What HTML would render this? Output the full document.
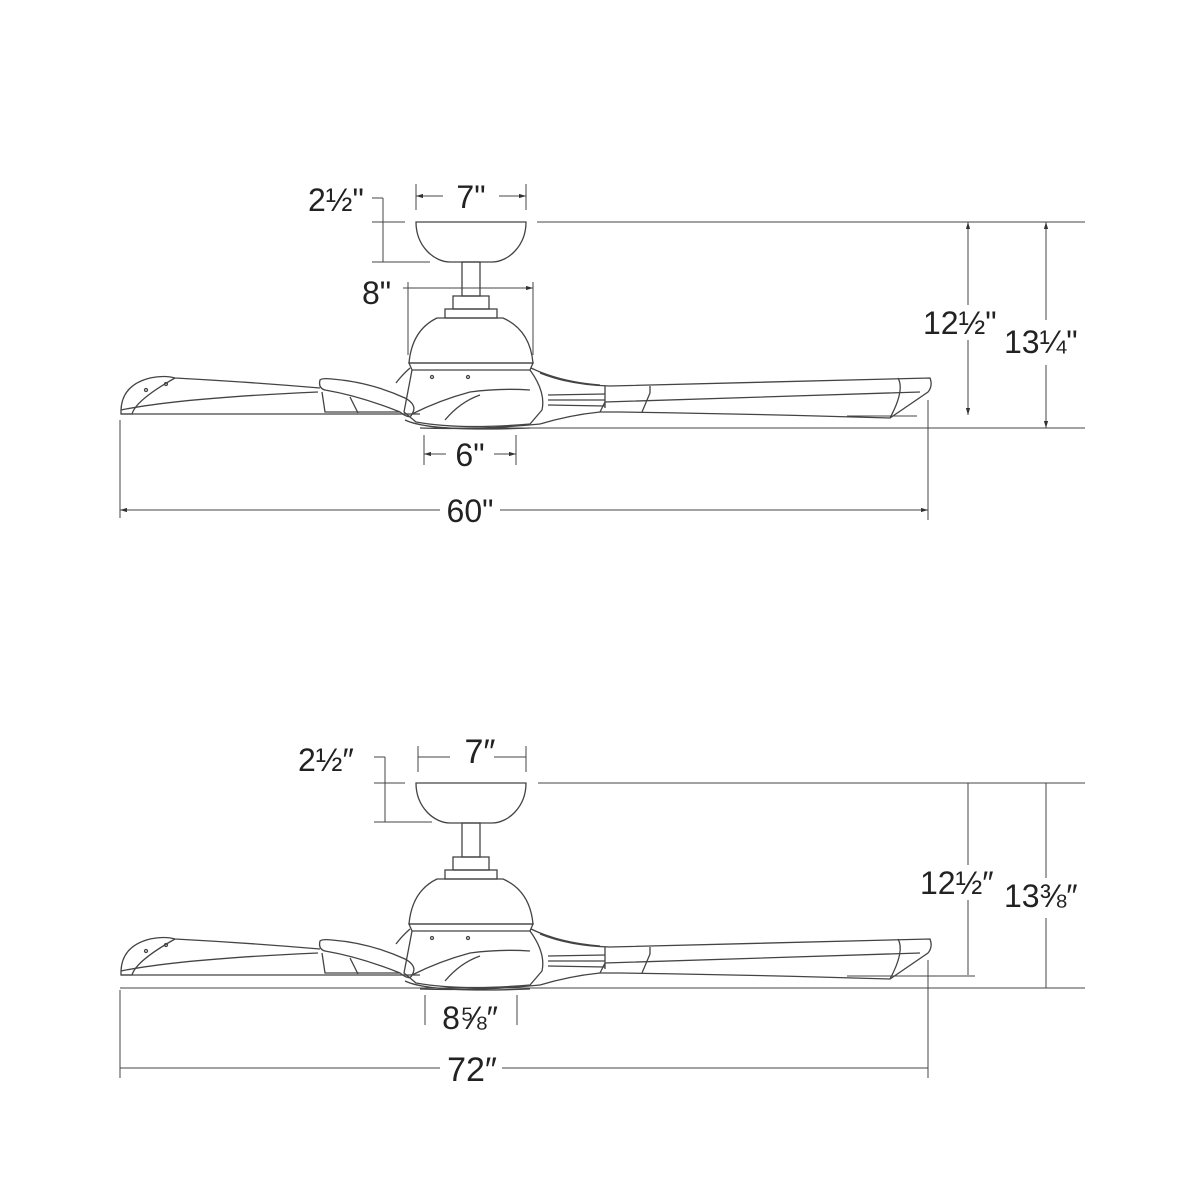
<!DOCTYPE html>
<html><head><meta charset="utf-8"><style>
html,body{margin:0;padding:0;background:#fff;}
svg{display:block}
text{font-family:"Liberation Sans",sans-serif;fill:#222;}
</style></head><body>
<svg width="1200" height="1200" viewBox="0 0 1200 1200" xmlns="http://www.w3.org/2000/svg">
<defs>
<marker id="a" viewBox="0 0 10 10" refX="10" refY="5" markerWidth="7" markerHeight="7" orient="auto-start-reverse"><path d="M0,2 L10,5 L0,8 z" fill="#333"/></marker>
<g id="fan" fill="none" stroke="#444" stroke-width="1.3">
  <path d="M416,222 L526,222 C526,246 508,262 492,262 L450,262 C434,262 416,246 416,222 z"/>
  <rect x="462" y="262" width="18" height="34"/>
  <rect x="453" y="296" width="36" height="13"/>
  <rect x="445" y="309" width="52" height="9"/>
  <path d="M437,318 L503,318 Q530,330 533,363 L409,363 Q412,330 437,318 z"/>
  <path d="M409,363 L533,363 L530,370 L412,370 z"/>
  <path d="M410,368 Q402,375 396,383 M531,368 Q560,382 600,385"/>
  <path d="M412,370 L404,412 L416,422 Q460,430 530,424 L542,410 Q546,392 530,370"/>
  <circle cx="432" cy="377" r="1.5"/><circle cx="468" cy="377" r="1.5"/>
  <path d="M121,410 Q122,385 150,378 Q165,375 175,378 Q250,382 320,388"/>
  <path d="M121,410 Q180,398 318,392"/>
  <path d="M121,414 L420,414"/>
  <path d="M121,410 L121,414 L132,414 Q136,400 175,378"/>
  <circle cx="146" cy="390" r="1.5"/><circle cx="166" cy="384" r="1.5"/>
  <path d="M320,380 Q318,388 325,390 Q360,396 400,412 Q410,420 412,414 Q418,405 405,398 Q370,382 332,379 Q322,378 320,380 z"/>
  <path d="M322,392 L325,412 L400,412"/>
  <path d="M350,397 L358,413"/>
  <path d="M412,414 Q440,400 470,392 Q500,388 530,390"/>
  <path d="M445,420 Q460,402 480,395"/>
  <path d="M405,420 Q430,432 530,428"/>
  <path d="M540,373 Q570,385 610,386 Q760,382 930,378 Q933,386 928,392 L890,418 Q760,414 620,412 L600,412 Q570,415 540,424"/>
  <path d="M605,386 L605,402 L605,408 M600,412 L605,402 L920,392"/>
  <path d="M548,395 L605,394 M548,400 L605,400 M548,405 L605,406"/>
  <path d="M650,386 L650,393 L642,412"/>
  <path d="M898,378 Q905,390 890,418"/>
  <path d="M420,428 Q480,430 540,424"/>
</g>
</defs>

<use href="#fan"/>
<g stroke="#444" stroke-width="1" fill="none">
  <line x1="416" y1="184" x2="416" y2="210"/><line x1="526" y1="184" x2="526" y2="210"/>
  <line x1="416" y1="196" x2="443" y2="196" marker-start="url(#a)"/>
  <line x1="499" y1="196" x2="526" y2="196" marker-end="url(#a)"/>
  <line x1="372" y1="198" x2="383" y2="198"/><line x1="383" y1="198" x2="383" y2="262"/>
  <line x1="372" y1="222" x2="405" y2="222"/><line x1="372" y1="262" x2="430" y2="262"/>
  <line x1="408" y1="282" x2="408" y2="355"/><line x1="533" y1="282" x2="533" y2="355"/>
  <line x1="403" y1="288" x2="533" y2="288" marker-end="url(#a)"/>
  <line x1="537" y1="222" x2="1085" y2="222"/>
  <line x1="430" y1="428" x2="1085" y2="428"/>
  <line x1="968" y1="222" x2="968" y2="305" marker-start="url(#a)"/>
  <line x1="968" y1="340" x2="968" y2="415" marker-end="url(#a)"/>
  <line x1="847" y1="416" x2="917" y2="416"/>
  <line x1="1046" y1="222" x2="1046" y2="320" marker-start="url(#a)"/>
  <line x1="1046" y1="365" x2="1046" y2="428" marker-end="url(#a)"/>
  <line x1="424" y1="435" x2="424" y2="465"/><line x1="516" y1="435" x2="516" y2="465"/>
  <line x1="424" y1="454" x2="446" y2="454" marker-start="url(#a)"/>
  <line x1="494" y1="454" x2="516" y2="454" marker-end="url(#a)"/>
  <line x1="120" y1="420" x2="120" y2="518"/><line x1="928" y1="400" x2="928" y2="520"/>
  <line x1="120" y1="510" x2="440" y2="510" marker-start="url(#a)"/>
  <line x1="500" y1="510" x2="928" y2="510" marker-end="url(#a)"/>
</g>
<text x="308" y="211" font-size="32">2½"</text>
<text x="471" y="208" font-size="32" text-anchor="middle">7"</text>
<text x="362" y="304" font-size="32">8"</text>
<text x="923" y="334" font-size="32">12½"</text>
<text x="1004" y="353" font-size="32">13¼"</text>
<text x="470" y="466" font-size="32" text-anchor="middle">6"</text>
<text x="470" y="522" font-size="32" text-anchor="middle">60"</text>

<use href="#fan" transform="translate(0,561)"/>
<g stroke="#444" stroke-width="1" fill="none">
  <line x1="418" y1="746" x2="418" y2="772"/><line x1="526" y1="746" x2="526" y2="772"/>
  <line x1="418" y1="757" x2="450" y2="757"/><line x1="494" y1="757" x2="526" y2="757"/>
  <line x1="374" y1="757" x2="385" y2="757"/><line x1="385" y1="757" x2="385" y2="822"/>
  <line x1="374" y1="783" x2="405" y2="783"/><line x1="374" y1="822" x2="432" y2="822"/>
  <line x1="538" y1="783" x2="1085" y2="783"/>
  <line x1="120" y1="988" x2="1085" y2="988"/>
  <line x1="968" y1="783" x2="968" y2="865"/><line x1="968" y1="900" x2="968" y2="975"/>
  <line x1="847" y1="976" x2="975" y2="976"/>
  <line x1="1046" y1="783" x2="1046" y2="878"/><line x1="1046" y1="918" x2="1046" y2="988"/>
  <line x1="425" y1="995" x2="425" y2="1025"/><line x1="517" y1="995" x2="517" y2="1025"/>
  <line x1="120" y1="990" x2="120" y2="1078"/><line x1="928" y1="960" x2="928" y2="1078"/>
  <line x1="120" y1="1068" x2="440" y2="1068"/><line x1="502" y1="1068" x2="928" y2="1068"/>
</g>
<text x="298" y="771" font-size="32">2½″</text>
<text x="480" y="763" font-size="34" text-anchor="middle">7″</text>
<text x="920" y="894" font-size="32">12½″</text>
<text x="1004" y="907" font-size="32">13⅜″</text>
<text x="470" y="1029" font-size="32" text-anchor="middle">8⅝″</text>
<text x="472" y="1081" font-size="34" text-anchor="middle">72″</text>
</svg>
</body></html>
